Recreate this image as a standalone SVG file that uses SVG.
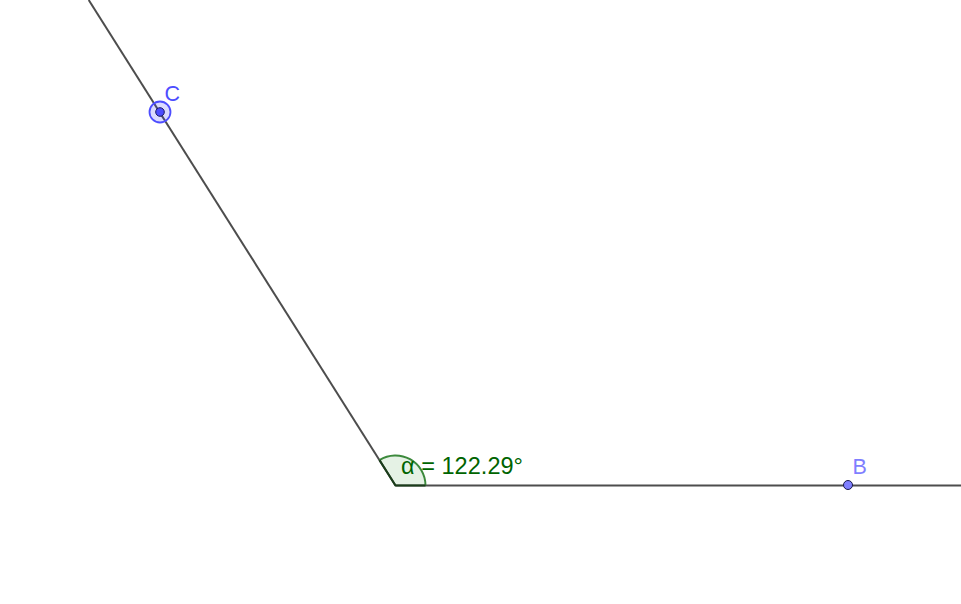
<svg xmlns="http://www.w3.org/2000/svg" width="961" height="604" viewBox="0 0 961 604">
<style>
.ray{stroke:#4d4d4d;stroke-width:2;fill:none;stroke-linecap:butt}
.lbl{font-family:"Liberation Sans",Arial,sans-serif;font-size:21.5px}
</style>
<rect width="961" height="604" fill="#ffffff"/>
<g id="connectors">
<line class="ray" x1="395.5" y1="485.5" x2="961" y2="485.5"/>
<line class="ray" x1="395.5" y1="485.5" x2="88.7" y2="0"/>
</g>
<g id="angle">
<path d="M395.5,485.5 L425.5,485.5 A30,30 0 0 0 379.5,460.1 Z" fill="#007f00" fill-opacity="0.1" stroke="none"/>
<path d="M425.5,485.5 A30,30 0 0 0 379.5,460.1" fill="none" stroke="#3d8a3d" stroke-width="2"/>
<path d="M379.5,460.1 L395.5,485.5 L425.5,485.5" fill="none" stroke="#1a3d1a" stroke-width="2"/>
<text x="401" y="473.5" font-family="'Liberation Sans',Arial,sans-serif" font-size="23.5" fill="#006400" textLength="122" lengthAdjust="spacing">α = 122.29°</text>
</g>
<g id="C">
<circle cx="160" cy="112" r="10.5" fill="#4d4dff" fill-opacity="0.2" stroke="#4d4dff" stroke-width="1.8"/>
<circle cx="160" cy="112" r="4.3" fill="#4d4dff" stroke="#1a1a66" stroke-width="1"/>
<text class="lbl" x="164.5" y="100.5" fill="#4d4dff">C</text>
</g>
<g id="B">
<circle cx="848" cy="485" r="4.5" fill="#7f7fff" stroke="#1a1a4d" stroke-width="1"/>
<text class="lbl" x="852.5" y="474" fill="#7f7fff">B</text>
</g>
</svg>
